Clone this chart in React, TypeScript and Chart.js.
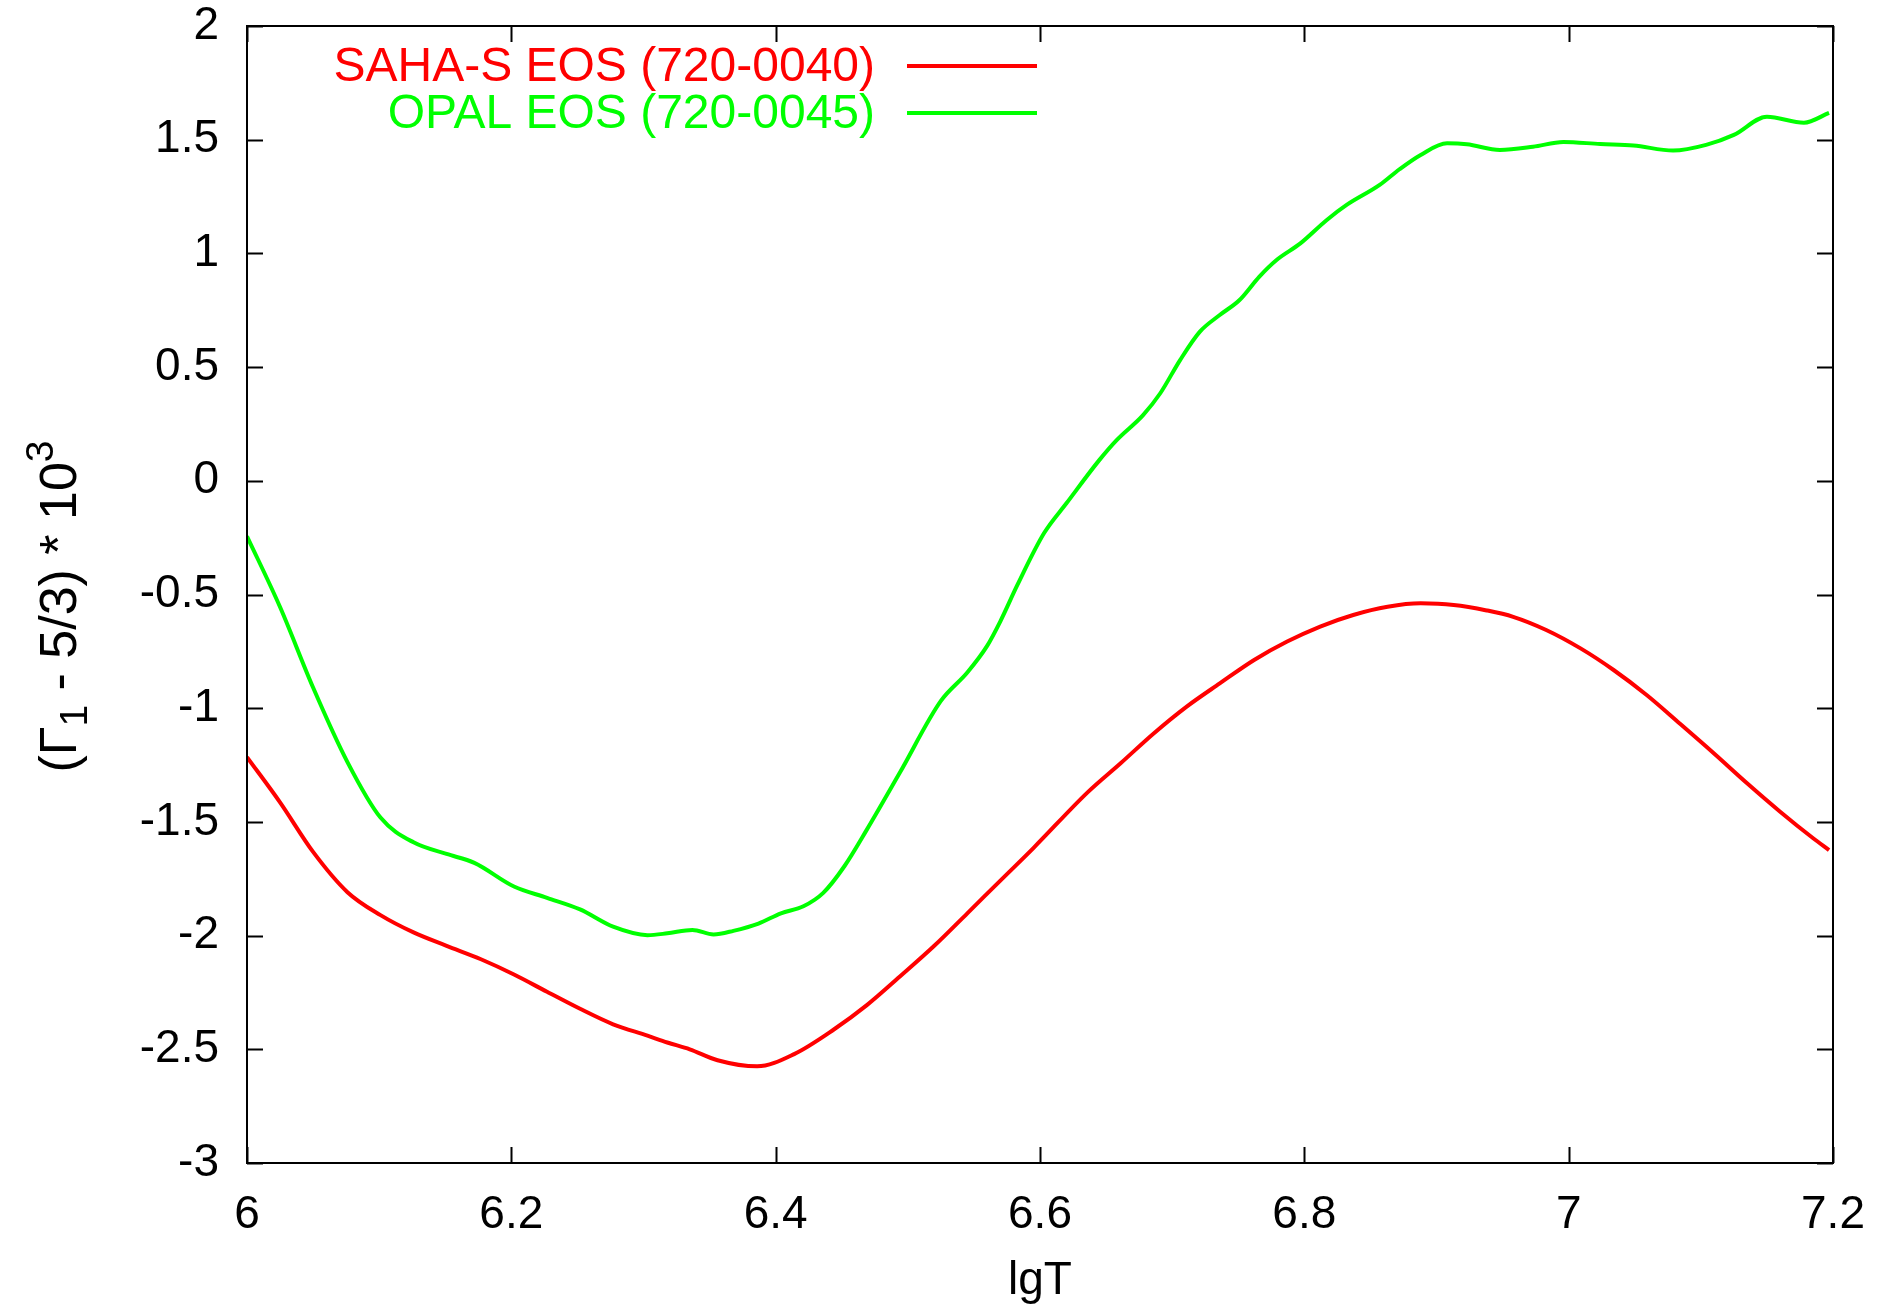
import React, { useEffect, useRef } from "react";
import { Chart, registerables } from "chart.js";

Chart.register(...registerables);

// SAHA-S EOS (720-0040)
const redLgT = [
  6.0, 6.025, 6.05, 6.076, 6.101, 6.126, 6.151, 6.177, 6.202, 6.227, 6.252, 6.277, 6.303, 6.318,
  6.335, 6.356, 6.386, 6.414, 6.444, 6.469, 6.494, 6.52, 6.545, 6.57, 6.595, 6.636, 6.661, 6.686,
  6.711, 6.736, 6.762, 6.787, 6.812, 6.837, 6.863, 6.888, 6.913, 6.938, 6.958, 6.983, 7.009, 7.034,
  7.059, 7.084, 7.11, 7.135, 7.16, 7.185, 7.197,
];
const redValues = [
  -1.215, -1.414, -1.632, -1.809, -1.91, -1.986, -2.045, -2.104, -2.171, -2.247, -2.322, -2.39,
  -2.44, -2.47, -2.5, -2.548, -2.575, -2.521, -2.413, -2.306, -2.18, -2.045, -1.902, -1.758, -1.615,
  -1.37, -1.242, -1.111, -0.993, -0.891, -0.788, -0.707, -0.641, -0.59, -0.554, -0.539, -0.546,
  -0.57, -0.598, -0.656, -0.737, -0.832, -0.942, -1.067, -1.199, -1.33, -1.455, -1.572, -1.624,
];

// OPAL EOS (720-0045)
const greenLgT = [
  6.0, 6.025, 6.05, 6.076, 6.101, 6.126, 6.151, 6.172, 6.202, 6.227, 6.252, 6.277, 6.303, 6.318,
  6.337, 6.353, 6.368, 6.387, 6.404, 6.421, 6.436, 6.452, 6.469, 6.494, 6.525, 6.545, 6.56, 6.57,
  6.583, 6.603, 6.62, 6.645, 6.658, 6.678, 6.691, 6.706, 6.721, 6.736, 6.751, 6.766, 6.779, 6.797,
  6.817, 6.832, 6.857, 6.872, 6.888, 6.908, 6.923, 6.948, 6.973, 6.996, 7.024, 7.049, 7.079, 7.104,
  7.125, 7.15, 7.178, 7.197,
];
const greenValues = [
  -0.244, -0.555, -0.909, -1.237, -1.481, -1.59, -1.641, -1.68, -1.784, -1.834, -1.885, -1.961,
  -1.998, -1.99, -1.975, -1.995, -1.979, -1.947, -1.902, -1.871, -1.812, -1.695, -1.534, -1.283,
  -0.968, -0.843, -0.726, -0.618, -0.457, -0.231, -0.099, 0.092, 0.179, 0.289, 0.385, 0.531, 0.656,
  0.729, 0.795, 0.898, 0.971, 1.044, 1.147, 1.213, 1.301, 1.37, 1.433, 1.484, 1.48, 1.455, 1.469,
  1.49, 1.481, 1.475, 1.452, 1.477, 1.521, 1.601, 1.575, 1.618,
];

const seriesLabels = ["SAHA-S EOS (720-0040)", "OPAL EOS (720-0045)"];
const seriesColors = ["#ff0000", "#00ff00"];

const xTickValues = [6, 6.2, 6.4, 6.6, 6.8, 7, 7.2];
const yTickValues = [-3, -2.5, -2, -1.5, -1, -0.5, 0, 0.5, 1, 1.5, 2];

const xTitle = "lgT";

const FONT = "'Liberation Sans', Arial, Helvetica, sans-serif";

const fmt = (v: number) => String(Number(Number(v).toFixed(2)));

const framePlugin = {
  id: "gnuplotFrame",
  afterDraw(chart: any) {
    const { ctx, chartArea: a } = chart;
    const xs = chart.scales.x;
    const ys = chart.scales.y;
    ctx.save();
    // border
    ctx.strokeStyle = "#000";
    ctx.lineWidth = 2;
    ctx.strokeRect(a.left, a.top, a.right - a.left, a.bottom - a.top);
    // inward ticks, mirrored
    const tl = 16;
    ctx.beginPath();
    for (const v of xTickValues) {
      const px = Math.round(xs.getPixelForValue(v)) + 0.5;
      ctx.moveTo(px, a.bottom);
      ctx.lineTo(px, a.bottom - tl);
      ctx.moveTo(px, a.top);
      ctx.lineTo(px, a.top + tl);
    }
    for (const v of yTickValues) {
      const py = Math.round(ys.getPixelForValue(v)) + 0.5;
      ctx.moveTo(a.left, py);
      ctx.lineTo(a.left + tl, py);
      ctx.moveTo(a.right, py);
      ctx.lineTo(a.right - tl, py);
    }
    ctx.stroke();

    // legend (gnuplot style: right-aligned text then line sample)
    const textRight = a.left + 628;
    const lineX0 = a.left + 660;
    const lineX1 = a.left + 790;
    const rows = [
      { base: a.top + 55, line: a.top + 40 },
      { base: a.top + 102, line: a.top + 87 },
    ];
    ctx.font = `48px ${FONT}`;
    ctx.textAlign = "right";
    ctx.textBaseline = "alphabetic";
    chart.data.datasets.forEach((ds: any, i: number) => {
      const r = rows[i];
      ctx.fillStyle = ds.borderColor;
      ctx.fillText(ds.label, textRight, r.base);
      ctx.strokeStyle = ds.borderColor;
      ctx.lineWidth = 4;
      ctx.beginPath();
      ctx.moveTo(lineX0, r.line);
      ctx.lineTo(lineX1, r.line);
      ctx.stroke();
    });

    // x title
    ctx.fillStyle = "#000";
    ctx.font = `46px ${FONT}`;
    ctx.textAlign = "center";
    ctx.fillText(xTitle, (a.left + a.right) / 2, 1294);

    // y title: (Γ_1 - 5/3) * 10^3 rotated
    const S = 52;
    const s = Math.round(S * 0.75);
    const parts = [
      { t: "(\u0393", size: S, shift: 0 },
      { t: "1", size: s, shift: 0.22 * S },
      { t: " - 5/3) * 10", size: S, shift: 0 },
      { t: "3", size: s, shift: -0.45 * S },
    ];
    let total = 0;
    for (const p of parts) {
      ctx.font = `${p.size}px ${FONT}`;
      total += ctx.measureText(p.t).width;
    }
    ctx.translate(76, (a.top + a.bottom) / 2 + 12);
    ctx.rotate(-Math.PI / 2);
    ctx.textAlign = "left";
    let cx = -total / 2;
    for (const p of parts) {
      ctx.font = `${p.size}px ${FONT}`;
      ctx.fillText(p.t, cx, p.shift);
      cx += ctx.measureText(p.t).width;
    }
    ctx.restore();
  },
};

export default function App() {
  const canvasRef = useRef<HTMLCanvasElement | null>(null);

  useEffect(() => {
    const canvas = canvasRef.current;
    if (!canvas) return;
    const redData = redLgT.map((x, i) => ({ x, y: redValues[i] }));
    const greenData = greenLgT.map((x, i) => ({ x, y: greenValues[i] }));
    const chart = new Chart(canvas, {
      type: "line",
      data: {
        datasets: [
          {
            label: seriesLabels[0],
            data: redData,
            borderColor: seriesColors[0],
            borderWidth: 4,
            pointRadius: 0,
            cubicInterpolationMode: "monotone",
            fill: false,
          },
          {
            label: seriesLabels[1],
            data: greenData,
            borderColor: seriesColors[1],
            borderWidth: 4,
            pointRadius: 0,
            cubicInterpolationMode: "monotone",
            fill: false,
          },
        ],
      },
      options: {
        animation: false,
        responsive: true,
        maintainAspectRatio: false,
        layout: { autoPadding: false, padding: { top: 26, right: 61, left: 0, bottom: 0 } },
        plugins: {
          legend: { display: false },
          tooltip: { enabled: false },
        },
        scales: {
          x: {
            type: "linear",
            min: 6,
            max: 7.2,
            grid: { display: false, drawTicks: false },
            border: { display: false },
            afterBuildTicks: (scale: any) => {
              scale.ticks = xTickValues.map((v) => ({ value: v }));
            },
            afterFit: (scale: any) => {
              scale.height = 146;
              scale.paddingLeft = 0;
              scale.paddingRight = 0;
              scale.paddingTop = 0;
              scale.paddingBottom = 0;
            },
            ticks: {
              autoSkip: false,
              maxRotation: 0,
              padding: 25,
              color: "#000",
              font: { family: FONT, size: 46 },
              callback: (v: any) => fmt(v),
            },
          },
          y: {
            type: "linear",
            min: -3,
            max: 2,
            grid: { display: false, drawTicks: false },
            border: { display: false },
            afterBuildTicks: (scale: any) => {
              scale.ticks = yTickValues.map((v) => ({ value: v }));
            },
            afterFit: (scale: any) => {
              scale.width = 247;
              scale.paddingLeft = 0;
              scale.paddingRight = 0;
              scale.paddingTop = 0;
              scale.paddingBottom = 0;
            },
            ticks: {
              autoSkip: false,
              padding: 28,
              color: "#000",
              font: { family: FONT, size: 46 },
              callback: (v: any) => fmt(v),
            },
          },
        },
      },
      plugins: [framePlugin],
    });
    return () => chart.destroy();
  }, []);

  return (
    <div
      style={{
        position: "fixed",
        left: 0,
        top: 0,
        width: "1894px",
        height: "1309px",
        background: "#fff",
      }}
    >
      <canvas ref={canvasRef} />
    </div>
  );
}
